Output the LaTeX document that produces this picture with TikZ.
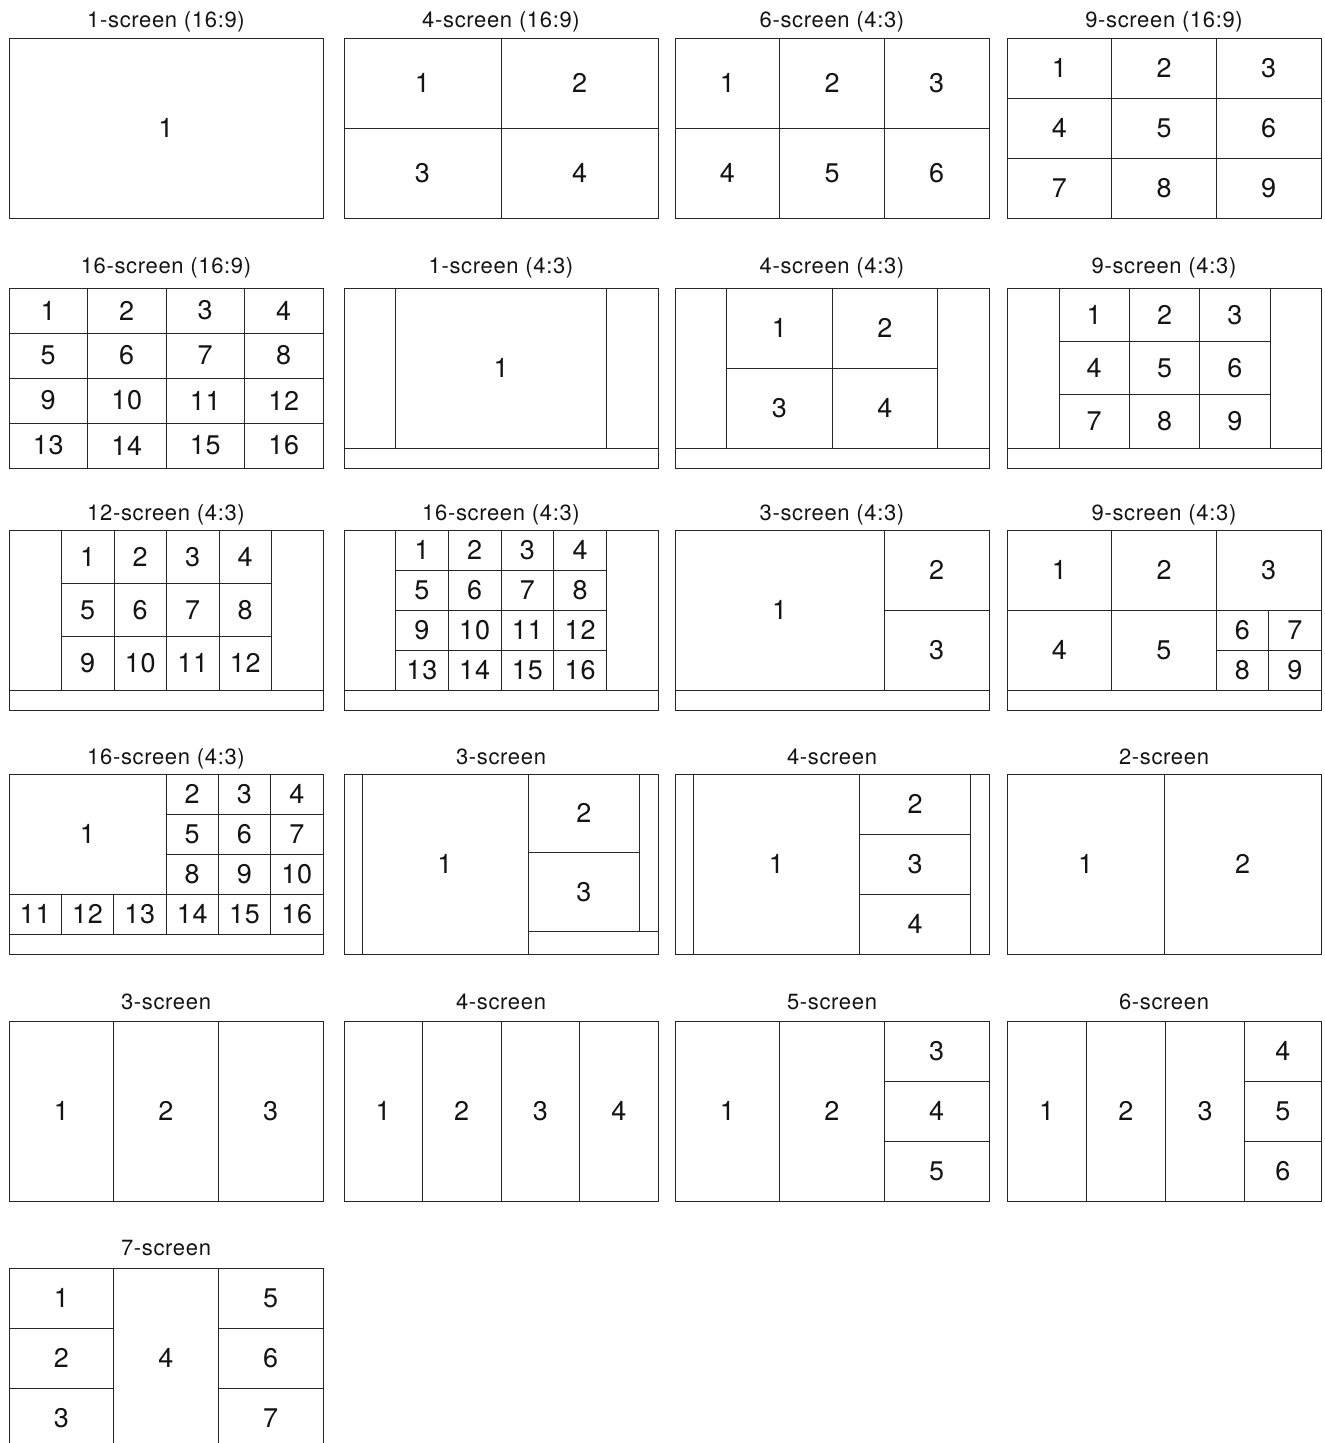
\documentclass[tikz,border=0pt]{standalone}
\usepackage{fontspec}
\setmainfont[LetterSpace=3]{TeX Gyre Heros}
\newcount\cellno
\newcount\tno
\newcommand\cell[5]{%
  \draw[frame] ({#1},{#2}) rectangle ({#3},{#4});
  \global\advance\cellno by 1
  \node[num] (c\the\cellno) at ({(#1+#3)/2},{(#2+#4)/2}) {#5};}
\newcommand\cgrid[7]{%
  \pgfmathsetmacro\cw{(#3-#1)/#5}%
  \pgfmathsetmacro\ch{(#4-#2)/#6}%
  \foreach \r in {1,...,#6}{\foreach \c in {1,...,#5}{%
    \pgfmathtruncatemacro\lab{#7+(\r-1)*#5+\c-1}%
    \pgfmathsetmacro\xa{#1+(\c-1)*\cw}%
    \pgfmathsetmacro\xb{#1+\c*\cw}%
    \pgfmathsetmacro\ya{#2+(\r-1)*\ch}%
    \pgfmathsetmacro\yb{#2+\r*\ch}%
    \cell{\xa}{\ya}{\xb}{\yb}{\lab}}}}
\newcommand\ttl[3]{%
  \global\advance\tno by 1
  \node[ttlstyle] (t\the\tno) at (#1,#2) {#3};}
\newcommand\letterbox{%
  \draw[frame] (0,0) rectangle (314,180);
  \draw[frame] (0,160) -- (314,160);}
\begin{document}
\begin{tikzpicture}[x=1pt,y=-1pt,
  frame/.style={draw=black!85, line width=0.95pt},
  num/.style={font=\fontsize{27}{27}\selectfont, text=black!92, inner sep=0pt},
  ttlstyle/.style={font=\fontsize{22}{22}\selectfont, text=black!92, anchor=base, inner sep=0pt}]
\useasboundingbox (0,0) rectangle (1325,1443);
\fill[white] (0,0) rectangle (1325,1443);
\begin{scope}
\clip (0,0) rectangle (1325,1443);
% ---------- Row 1 ----------
\ttl{166}{27}{1-screen (16:9)}
\ttl{501}{27}{4-screen (16:9)}
\ttl{832}{27}{6-screen (4:3)}
\ttl{1164}{27}{9-screen (16:9)}
\begin{scope}[shift={(9,38)}]
  \cell{0}{0}{314}{180}{1}
\end{scope}
\begin{scope}[shift={(344,38)}]
  \cgrid{0}{0}{314}{180}{2}{2}{1}
\end{scope}
\begin{scope}[shift={(675,38)}]
  \cgrid{0}{0}{314}{180}{3}{2}{1}
\end{scope}
\begin{scope}[shift={(1007,38)}]
  \cgrid{0}{0}{314}{180}{3}{3}{1}
\end{scope}
% ---------- Row 2 ----------
\ttl{166}{273}{16-screen (16:9)}
\ttl{501}{273}{1-screen (4:3)}
\ttl{832}{273}{4-screen (4:3)}
\ttl{1164}{273}{9-screen (4:3)}
\begin{scope}[shift={(9,288)}]
  \cgrid{0}{0}{314}{180}{4}{4}{1}
\end{scope}
\begin{scope}[shift={(344,288)}]
  \letterbox
  \cell{51.5}{0}{262.5}{160}{1}
\end{scope}
\begin{scope}[shift={(675,288)}]
  \letterbox
  \cgrid{51.5}{0}{262.5}{160}{2}{2}{1}
\end{scope}
\begin{scope}[shift={(1007,288)}]
  \letterbox
  \cgrid{52}{0}{263}{160}{3}{3}{1}
\end{scope}
% ---------- Row 3 ----------
\ttl{166}{520}{12-screen (4:3)}
\ttl{501}{520}{16-screen (4:3)}
\ttl{832}{520}{3-screen (4:3)}
\ttl{1164}{520}{9-screen (4:3)}
\begin{scope}[shift={(9,530)}]
  \letterbox
  \cgrid{52.5}{0}{262.5}{160}{4}{3}{1}
\end{scope}
\begin{scope}[shift={(344,530)}]
  \letterbox
  \cgrid{51.5}{0}{262.5}{160}{4}{4}{1}
\end{scope}
\begin{scope}[shift={(675,530)}]
  \letterbox
  \cell{0}{0}{209.3}{160}{1}
  \cgrid{209.3}{0}{314}{160}{1}{2}{2}
\end{scope}
\begin{scope}[shift={(1007,530)}]
  \letterbox
  \cgrid{0}{0}{314}{80}{3}{1}{1}
  \cgrid{0}{80}{209.3}{160}{2}{1}{4}
  \cgrid{209.3}{80}{314}{160}{2}{2}{6}
\end{scope}
% ---------- Row 4 ----------
\ttl{166}{764}{16-screen (4:3)}
\ttl{501}{764}{3-screen}
\ttl{832}{764}{4-screen}
\ttl{1164}{764}{2-screen}
\begin{scope}[shift={(9,774)}]
  \letterbox
  \cell{0}{0}{157}{120}{1}
  \cgrid{157}{0}{314}{120}{3}{3}{2}
  \cgrid{0}{120}{314}{160}{6}{1}{11}
\end{scope}
\begin{scope}[shift={(344,774)}]
  \draw[frame] (0,0) rectangle (314,180);
  \cell{18}{0}{184}{180}{1}
  \cgrid{184}{0}{295.5}{157}{1}{2}{2}
  \draw[frame] (184,157) -- (314,157);
\end{scope}
\begin{scope}[shift={(675,774)}]
  \draw[frame] (0,0) rectangle (314,180);
  \cell{18}{0}{184.6}{180}{1}
  \cgrid{184.6}{0}{295.6}{180}{1}{3}{2}
\end{scope}
\begin{scope}[shift={(1007,774)}]
  \cgrid{0}{0}{314}{180}{2}{1}{1}
\end{scope}
% ---------- Row 5 ----------
\ttl{166}{1009}{3-screen}
\ttl{501}{1009}{4-screen}
\ttl{832}{1009}{5-screen}
\ttl{1164}{1009}{6-screen}
\begin{scope}[shift={(9,1021)}]
  \cgrid{0}{0}{314}{180}{3}{1}{1}
\end{scope}
\begin{scope}[shift={(344,1021)}]
  \cgrid{0}{0}{314}{180}{4}{1}{1}
\end{scope}
\begin{scope}[shift={(675,1021)}]
  \cgrid{0}{0}{209.3}{180}{2}{1}{1}
  \cgrid{209.3}{0}{314}{180}{1}{3}{3}
\end{scope}
\begin{scope}[shift={(1007,1021)}]
  \cgrid{0}{0}{237.6}{180}{3}{1}{1}
  \cgrid{237.6}{0}{314}{180}{1}{3}{4}
\end{scope}
% ---------- Row 6 ----------
\ttl{166}{1255}{7-screen}
\begin{scope}[shift={(9,1268)}]
  \cgrid{0}{0}{104.7}{180}{1}{3}{1}
  \cell{104.7}{0}{209.3}{180}{4}
  \cgrid{209.3}{0}{314}{180}{1}{3}{5}
\end{scope}
\end{scope}
\end{tikzpicture}
\end{document}
